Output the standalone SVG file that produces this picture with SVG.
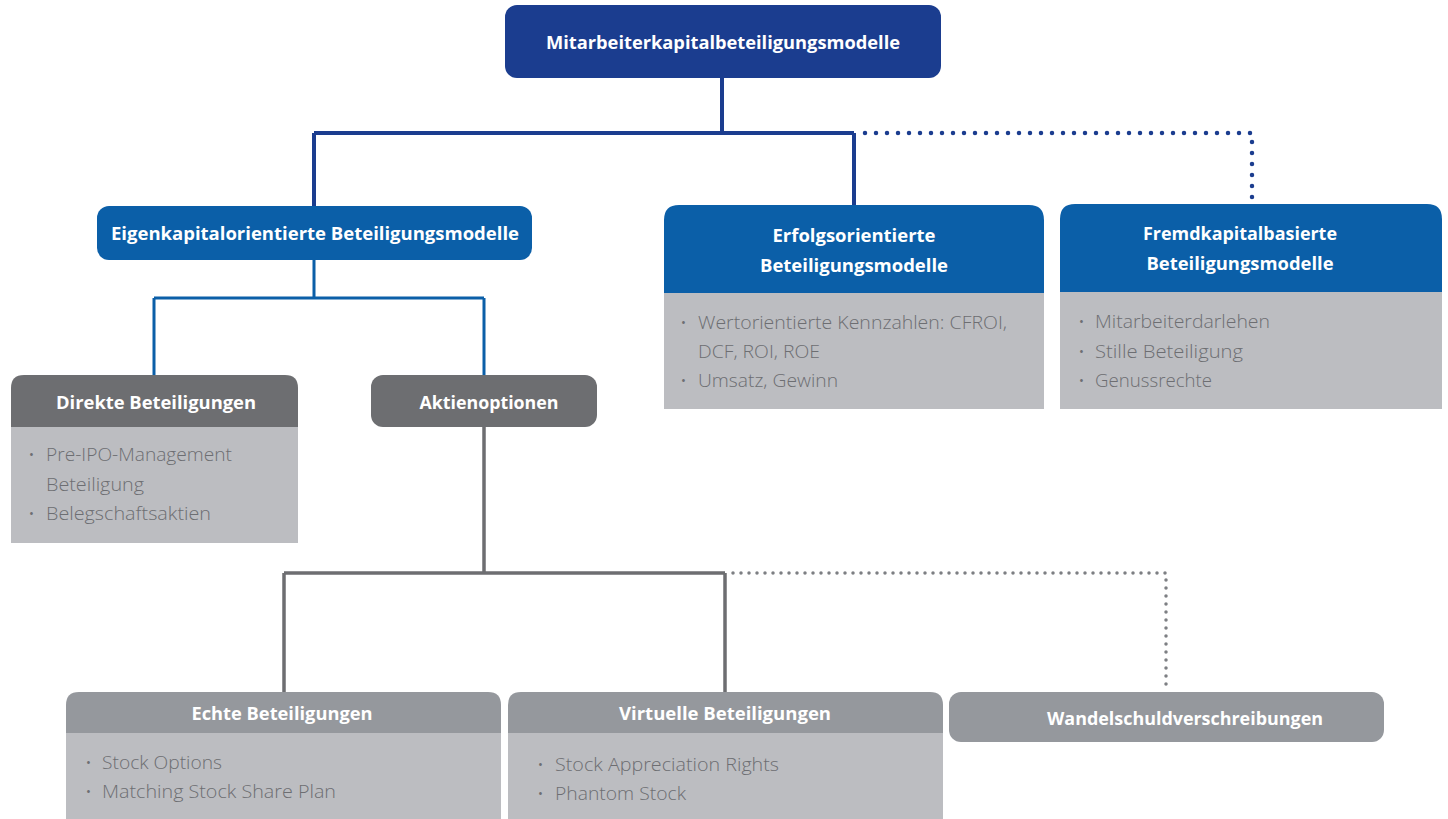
<svg xmlns="http://www.w3.org/2000/svg" width="1448" height="819" viewBox="0 0 1448 819">
<style>
.navy{fill:#1b3d8f}
.blue{fill:#0b5fa8}
.dgray{fill:#6d6e71}
.hgray{fill:#95989d}
.body{fill:#bcbdc1}
.h{font-family:"Open Sans","Liberation Sans",sans-serif;font-weight:700;font-size:17.5px;fill:#fff;text-anchor:middle}
.b{font-family:"Open Sans","Liberation Sans",sans-serif;font-weight:300;font-size:17.5px;fill:#6d6e72}
.d{font-family:"Open Sans","Liberation Sans",sans-serif;font-size:13px;fill:#6d6e72}
.solidN{fill:none;stroke:#1b3d8f;stroke-width:4}
.solidB{fill:none;stroke:#0b5fa8;stroke-width:3}
.solidG{fill:none;stroke:#6d6e71;stroke-width:3.5}
.dotN{fill:none;stroke:#1b3d8f;stroke-width:4.5;stroke-linecap:round;stroke-dasharray:0 11}
.dotG{fill:none;stroke:#7d7f83;stroke-width:3.5;stroke-linecap:round;stroke-dasharray:0 8}
</style>
<g id="connectors">
<path class="solidN" d="M722 78V133M314 133H854M314 133V207M854 133V205"/>
<path class="dotN" d="M865 133H1252V205"/>
<path class="solidB" d="M314 260V298M154 298H484M154 298V376M484 298V376"/>
<path class="solidG" d="M484 427V573M284 573H725M284 573V693M725 573V693"/>
<path class="dotG" d="M733 573H1166V692"/>
</g>
<g id="n-top">
<rect class="navy" x="505" y="5" width="436" height="73" rx="12"/>
<text class="h" x="723" y="49" textLength="354" lengthAdjust="spacingAndGlyphs">Mitarbeiterkapitalbeteiligungsmodelle</text>
</g>
<g id="n-eigen">
<rect class="blue" x="97" y="206" width="435" height="54" rx="12"/>
<text class="h" x="315" y="240" textLength="408" lengthAdjust="spacingAndGlyphs">Eigenkapitalorientierte Beteiligungsmodelle</text>
</g>
<g id="n-erfolg">
<path class="blue" d="M664 293V220Q664 205 679 205H1029Q1044 205 1044 220V293Z"/>
<rect class="body" x="664" y="293" width="380" height="116"/>
<text class="h" x="854" y="242" textLength="163" lengthAdjust="spacingAndGlyphs">Erfolgsorientierte</text>
<text class="h" x="854" y="272" textLength="188" lengthAdjust="spacingAndGlyphs">Beteiligungsmodelle</text>
<text class="d" x="681" y="327">•</text>
<text class="b" x="698" y="329" textLength="309" lengthAdjust="spacingAndGlyphs">Wertorientierte Kennzahlen: CFROI,</text>
<text class="b" x="698" y="358" textLength="122" lengthAdjust="spacingAndGlyphs">DCF, ROI, ROE</text>
<text class="d" x="681" y="385">•</text>
<text class="b" x="698" y="387" textLength="140" lengthAdjust="spacingAndGlyphs">Umsatz, Gewinn</text>
</g>
<g id="n-fremd">
<path class="blue" d="M1060 292V219Q1060 204 1075 204H1427Q1442 204 1442 219V292Z"/>
<rect class="body" x="1060" y="292" width="382" height="117"/>
<text class="h" x="1240" y="240" textLength="194" lengthAdjust="spacingAndGlyphs">Fremdkapitalbasierte</text>
<text class="h" x="1240" y="270" textLength="187" lengthAdjust="spacingAndGlyphs">Beteiligungsmodelle</text>
<text class="d" x="1079" y="326">•</text>
<text class="b" x="1095" y="328" textLength="175" lengthAdjust="spacingAndGlyphs">Mitarbeiterdarlehen</text>
<text class="d" x="1079" y="356">•</text>
<text class="b" x="1095" y="358" textLength="148" lengthAdjust="spacingAndGlyphs">Stille Beteiligung</text>
<text class="d" x="1079" y="385">•</text>
<text class="b" x="1095" y="387" textLength="117" lengthAdjust="spacingAndGlyphs">Genussrechte</text>
</g>
<g id="n-direkt">
<path class="dgray" d="M11 427V388Q11 375 24 375H285Q298 375 298 388V427Z"/>
<rect class="body" x="11" y="427" width="287" height="116"/>
<text class="h" x="156" y="409" textLength="200" lengthAdjust="spacingAndGlyphs">Direkte Beteiligungen</text>
<text class="d" x="29" y="459">•</text>
<text class="b" x="46" y="461" textLength="186" lengthAdjust="spacingAndGlyphs">Pre-IPO-Management</text>
<text class="b" x="46" y="491" textLength="98" lengthAdjust="spacingAndGlyphs">Beteiligung</text>
<text class="d" x="29" y="518">•</text>
<text class="b" x="46" y="520" textLength="165" lengthAdjust="spacingAndGlyphs">Belegschaftsaktien</text>
</g>
<g id="n-aktien">
<rect class="dgray" x="371" y="375" width="226" height="52" rx="12"/>
<text class="h" x="489" y="409" textLength="139" lengthAdjust="spacingAndGlyphs">Aktienoptionen</text>
</g>
<g id="n-echte">
<path class="hgray" d="M66 733V705Q66 692 79 692H488Q501 692 501 705V733Z"/>
<rect class="body" x="66" y="733" width="435" height="86"/>
<text class="h" x="282" y="720" textLength="181" lengthAdjust="spacingAndGlyphs">Echte Beteiligungen</text>
<text class="d" x="86" y="767">•</text>
<text class="b" x="102" y="769" textLength="120" lengthAdjust="spacingAndGlyphs">Stock Options</text>
<text class="d" x="86" y="796">•</text>
<text class="b" x="102" y="798" textLength="234" lengthAdjust="spacingAndGlyphs">Matching Stock Share Plan</text>
</g>
<g id="n-virtuell">
<path class="hgray" d="M508 733V705Q508 692 521 692H930Q943 692 943 705V733Z"/>
<rect class="body" x="508" y="733" width="435" height="86"/>
<text class="h" x="725" y="720" textLength="212" lengthAdjust="spacingAndGlyphs">Virtuelle Beteiligungen</text>
<text class="d" x="538" y="769">•</text>
<text class="b" x="555" y="771" textLength="224" lengthAdjust="spacingAndGlyphs">Stock Appreciation Rights</text>
<text class="d" x="538" y="798">•</text>
<text class="b" x="555" y="800" textLength="131" lengthAdjust="spacingAndGlyphs">Phantom Stock</text>
</g>
<g id="n-wandel">
<rect class="hgray" x="949" y="692" width="435" height="50" rx="12"/>
<text class="h" x="1185" y="725" textLength="276" lengthAdjust="spacingAndGlyphs">Wandelschuldverschreibungen</text>
</g>
</svg>
